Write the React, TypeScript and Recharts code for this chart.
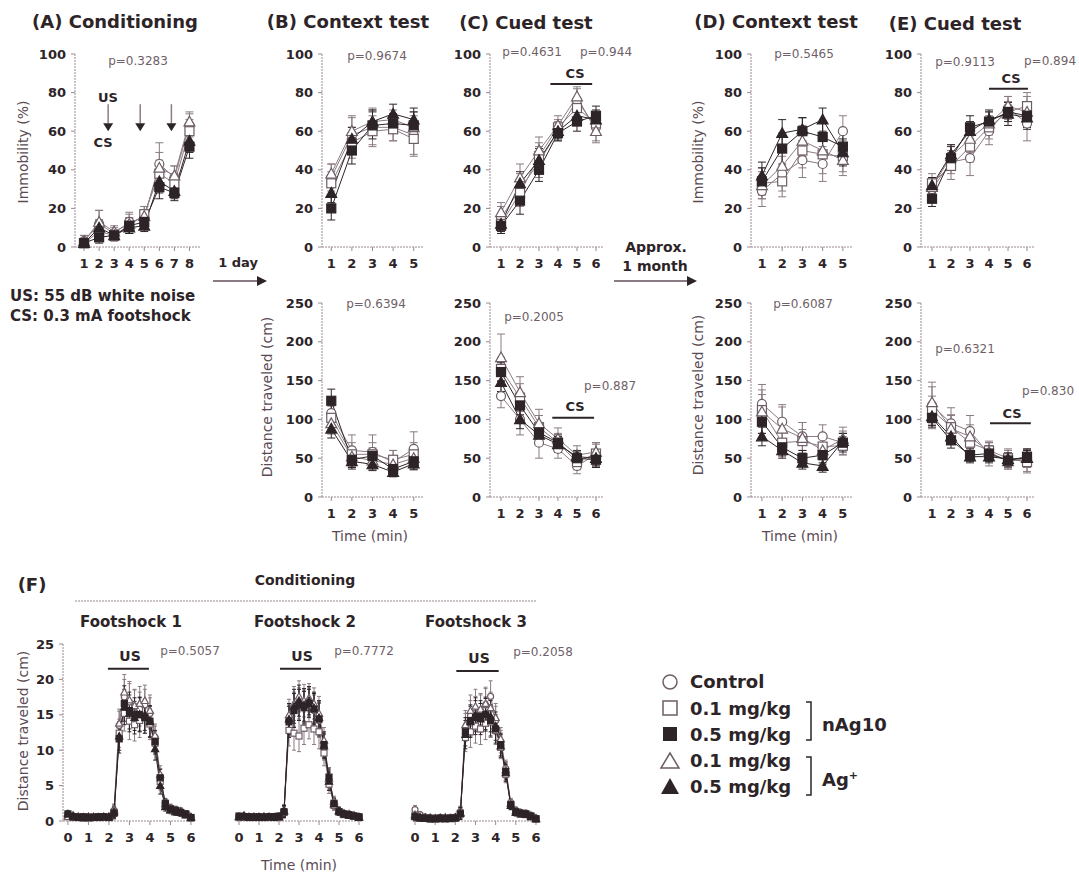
import React from "react";
import {
  LineChart,
  Line,
  XAxis,
  YAxis,
  ErrorBar,
  ReferenceLine,
  ReferenceDot,
} from "recharts";

const FONT = '"DejaVu Sans", Verdana, sans-serif';
const INK = "#2d2428";
const GREY = "#8b7b84";
const OPEN = "#6d5d66";
const AXIS = "#9a8a92";
const PTXT = "#6f5f69";
const LABEL = "#5b4b55";

// x categories (minutes / trials)
const cond8 = [1, 2, 3, 4, 5, 6, 7, 8];
const min5 = [1, 2, 3, 4, 5];
const min6 = [1, 2, 3, 4, 5, 6];
const fTimes = [0, 0.25, 0.5, 0.75, 1, 1.25, 1.5, 1.75, 2, 2.25, 2.5, 2.75, 3, 3.25, 3.5, 3.75, 4, 4.25, 4.5, 4.75, 5, 5.25, 5.5, 5.75, 6];
const fxTicks = [0, 1, 2, 3, 4, 5, 6];

const immTicks = [0, 20, 40, 60, 80, 100];
const distTicks = [0, 50, 100, 150, 200, 250];
const fTicks = [0, 5, 10, 15, 20, 25];

// (A) conditioning, immobility (%)
const aCtl = [3, 12, 7, 13, 15, 43, 36, 63];
const aN01 = [2, 8, 6, 11, 17, 38, 33, 60];
const aN05 = [2, 5, 6, 11, 13, 31, 28, 52];
const aA01 = [3, 13, 8, 12, 16, 41, 37, 65];
const aA05 = [2, 10, 6, 10, 11, 34, 29, 55];
const aCtlE = [3, 7, 3, 5, 4, 11, 6, 6];
const aN01E = [2, 4, 3, 4, 4, 7, 5, 6];
const aN05E = [2, 3, 2, 4, 3, 6, 4, 6];
const aA01E = [3, 6, 3, 5, 5, 8, 5, 5];
const aA05E = [2, 4, 2, 3, 3, 6, 4, 6];

// (B) context test, immobility
const bCtl = [36, 58, 62, 62, 58];
const bN01 = [33, 54, 60, 61, 56];
const bN05 = [20, 50, 63, 64, 63];
const bA01 = [38, 60, 65, 66, 62];
const bA05 = [28, 56, 65, 69, 66];
const bCtlE = [7, 10, 9, 7, 10];
const bN01E = [6, 8, 8, 6, 9];
const bN05E = [6, 7, 7, 5, 7];
const bA01E = [5, 7, 7, 5, 8];
const bA05E = [5, 6, 6, 5, 6];

// (C) cued test, immobility
const cCtl = [15, 30, 44, 60, 76, 62];
const cN01 = [12, 28, 47, 62, 72, 64];
const cN05 = [11, 24, 40, 59, 65, 68];
const cA01 = [18, 36, 50, 63, 78, 60];
const cA05 = [12, 33, 45, 60, 68, 66];
const cCtlE = [6, 8, 8, 5, 6, 7];
const cN01E = [5, 7, 7, 4, 5, 5];
const cN05E = [4, 7, 6, 4, 5, 5];
const cA01E = [5, 7, 7, 5, 5, 6];
const cA05E = [4, 6, 6, 4, 4, 5];

// (D) context test 1 month, immobility
const dCtl = [29, 38, 45, 43, 60];
const dN01 = [33, 34, 50, 48, 47];
const dN05 = [34, 51, 60, 57, 52];
const dA01 = [32, 42, 55, 50, 45];
const dA05 = [37, 59, 61, 66, 49];
const dCtlE = [8, 9, 9, 9, 8];
const dN01E = [8, 8, 9, 10, 8];
const dN05E = [7, 8, 7, 7, 8];
const dA01E = [7, 9, 8, 8, 8];
const dA05E = [7, 7, 6, 6, 7];

// (E) cued test 1 month, immobility
const eCtl = [30, 44, 46, 60, 72, 64];
const eN01 = [33, 42, 52, 62, 70, 73];
const eN05 = [25, 46, 62, 65, 70, 68];
const eA01 = [31, 47, 56, 64, 73, 70];
const eA05 = [32, 48, 60, 66, 69, 67];
const eCtlE = [6, 6, 9, 7, 6, 9];
const eN01E = [5, 7, 8, 6, 5, 7];
const eN05E = [4, 6, 6, 5, 5, 6];
const eA01E = [5, 6, 7, 6, 5, 8];
const eA05E = [4, 5, 5, 5, 6, 6];

// distance traveled (cm), context/cued tests
const bdCtl = [108, 60, 58, 45, 62];
const bdN01 = [102, 55, 55, 48, 55];
const bdN05 = [124, 48, 53, 36, 46];
const bdA01 = [95, 52, 47, 42, 50];
const bdA05 = [88, 46, 42, 32, 43];
const bdCtlE = [18, 20, 22, 15, 22];
const bdN01E = [15, 15, 15, 12, 15];
const bdN05E = [15, 10, 10, 8, 10];
const bdA01E = [14, 12, 12, 10, 12];
const bdA05E = [12, 10, 8, 6, 8];

const cdCtl = [130, 100, 70, 62, 40, 55];
const cdN01 = [165, 128, 90, 70, 45, 56];
const cdN05 = [161, 118, 83, 70, 50, 48];
const cdA01 = [180, 135, 95, 75, 54, 58];
const cdA05 = [148, 100, 80, 68, 52, 50];
const cdCtlE = [15, 20, 20, 12, 10, 15];
const cdN01E = [15, 18, 15, 12, 10, 12];
const cdN05E = [12, 12, 12, 10, 8, 10];
const cdA01E = [30, 20, 18, 14, 12, 12];
const cdA05E = [12, 12, 12, 10, 8, 10];

const ddCtl = [120, 97, 78, 78, 70];
const ddN01 = [112, 70, 72, 65, 66];
const ddN05 = [97, 64, 50, 54, 70];
const ddA01 = [110, 88, 76, 60, 75];
const ddA05 = [78, 60, 44, 40, 72];
const ddCtlE = [25, 22, 18, 15, 15];
const ddN01E = [20, 18, 15, 15, 12];
const ddN05E = [15, 10, 10, 10, 12];
const ddA01E = [28, 28, 20, 18, 15];
const ddA05E = [12, 10, 8, 8, 10];

const edCtl = [118, 95, 85, 55, 48, 46];
const edN01 = [112, 90, 70, 60, 50, 45];
const edN05 = [102, 73, 54, 56, 47, 52];
const edA01 = [122, 88, 78, 58, 46, 50];
const edA05 = [104, 78, 52, 52, 49, 50];
const edCtlE = [30, 20, 20, 15, 12, 15];
const edN01E = [18, 15, 18, 12, 12, 12];
const edN05E = [12, 10, 8, 10, 8, 10];
const edA01E = [20, 18, 15, 12, 10, 12];
const edA05E = [12, 10, 8, 8, 8, 10];

// (F) distance per bin during conditioning footshocks
const f1Ctl = [0.9, 0.7, 0.6, 0.5, 0.6, 0.5, 0.6, 0.5, 0.6, 1.5, 13.5, 17.5, 16.8, 16.2, 15.8, 16.4, 15.2, 11.8, 6.2, 2.6, 1.9, 1.6, 1.3, 1.0, 0.5];
const f1N01 = [0.7, 0.5, 0.6, 0.4, 0.5, 0.6, 0.5, 0.6, 0.5, 1.2, 12.4, 15.2, 14.1, 13.6, 14.2, 14.6, 13.7, 11.0, 5.6, 2.2, 1.7, 1.4, 1.2, 0.9, 0.4];
const f1N05 = [1.0, 0.6, 0.5, 0.6, 0.5, 0.5, 0.6, 0.6, 0.5, 1.1, 11.6, 16.6, 15.6, 15.1, 15.0, 14.6, 14.1, 11.2, 6.1, 2.5, 1.7, 1.5, 1.2, 1.0, 0.5];
const f1A01 = [0.6, 0.8, 0.5, 0.5, 0.4, 0.6, 0.5, 0.5, 0.6, 1.6, 13.8, 18.2, 17.1, 16.3, 16.6, 17.0, 15.6, 12.1, 6.6, 2.4, 1.5, 1.3, 1.4, 0.8, 0.6];
const f1A05 = [1.0, 0.7, 0.6, 0.5, 0.6, 0.5, 0.5, 0.6, 0.6, 1.3, 12.0, 16.1, 15.2, 14.6, 15.1, 15.0, 14.0, 10.2, 5.0, 2.0, 1.6, 1.3, 1.2, 0.9, 0.5];
const f1Err = [0.4, 0.3, 0.3, 0.3, 0.3, 0.3, 0.3, 0.3, 0.3, 0.8, 2.0, 2.5, 2.6, 2.3, 2.4, 2.2, 2.2, 1.6, 1.2, 0.6, 0.5, 0.5, 0.5, 0.4, 0.3];

const f2Ctl = [0.6, 0.7, 0.6, 0.5, 0.6, 0.6, 0.5, 0.6, 0.6, 1.4, 14.2, 15.8, 16.6, 16.2, 16.8, 15.6, 14.2, 10.4, 5.8, 2.6, 1.4, 1.0, 0.9, 0.8, 0.6];
const f2N01 = [0.5, 0.6, 0.5, 0.6, 0.5, 0.5, 0.6, 0.5, 0.5, 1.2, 12.8, 12.4, 12.0, 13.1, 13.6, 13.0, 12.6, 9.6, 5.2, 2.2, 1.3, 0.9, 0.8, 0.7, 0.5];
const f2N05 = [0.7, 0.6, 0.6, 0.5, 0.6, 0.5, 0.6, 0.6, 0.7, 1.3, 14.0, 15.6, 16.4, 16.0, 16.6, 15.8, 14.4, 10.8, 6.2, 2.5, 1.3, 1.0, 0.9, 0.7, 0.6];
const f2A01 = [0.6, 0.8, 0.6, 0.5, 0.6, 0.6, 0.5, 0.5, 0.6, 1.5, 15.0, 16.6, 17.6, 17.0, 17.4, 16.6, 15.2, 11.4, 6.0, 2.8, 1.5, 1.1, 1.0, 0.8, 0.6];
const f2A05 = [0.6, 0.7, 0.5, 0.6, 0.5, 0.6, 0.6, 0.5, 0.6, 1.4, 14.4, 16.2, 17.0, 16.4, 17.0, 16.0, 14.6, 10.6, 5.6, 2.4, 1.4, 1.0, 0.8, 0.7, 0.5];
const f2Err = [0.3, 0.3, 0.3, 0.3, 0.3, 0.3, 0.3, 0.3, 0.3, 0.8, 2.2, 2.4, 2.2, 2.3, 2.0, 2.2, 2.4, 1.8, 1.3, 0.7, 0.5, 0.4, 0.4, 0.3, 0.3];

const f3Ctl = [1.6, 0.9, 0.6, 0.5, 0.4, 0.5, 0.4, 0.5, 0.5, 1.3, 13.2, 14.8, 15.2, 15.6, 16.4, 17.6, 14.2, 11.2, 7.4, 2.6, 1.5, 1.2, 1.1, 0.8, 0.4];
const f3N01 = [0.8, 0.5, 0.4, 0.3, 0.4, 0.3, 0.4, 0.4, 0.5, 1.1, 11.8, 12.6, 13.4, 13.0, 13.8, 14.0, 12.8, 10.4, 6.6, 2.2, 1.3, 1.0, 0.9, 0.6, 0.3];
const f3N05 = [0.6, 0.4, 0.4, 0.3, 0.3, 0.4, 0.3, 0.4, 0.4, 1.0, 12.6, 14.2, 14.6, 14.8, 15.0, 14.2, 13.0, 10.8, 7.0, 2.3, 1.3, 1.1, 1.0, 0.7, 0.3];
const f3A01 = [0.9, 0.6, 0.5, 0.4, 0.4, 0.4, 0.5, 0.4, 0.5, 1.2, 13.6, 15.6, 16.2, 15.8, 16.6, 16.0, 14.6, 11.6, 7.2, 2.5, 1.4, 1.2, 1.0, 0.8, 0.4];
const f3A05 = [0.7, 0.5, 0.4, 0.4, 0.3, 0.4, 0.4, 0.3, 0.5, 1.1, 12.2, 14.0, 15.0, 14.4, 15.2, 14.8, 13.4, 10.6, 6.8, 2.2, 1.2, 1.0, 0.9, 0.6, 0.3];
const f3Err = [0.6, 0.4, 0.3, 0.3, 0.3, 0.3, 0.3, 0.3, 0.3, 0.8, 2.0, 2.2, 2.4, 2.2, 2.3, 2.2, 2.0, 1.6, 1.2, 0.6, 0.5, 0.4, 0.4, 0.3, 0.3];

// group order in every vals/errs list: control, nAg10 0.1, nAg10 0.5, Ag+ 0.1, Ag+ 0.5
const KEYS = ["ctl", "n01", "n05", "a01", "a05"];
const STYLE: Record<string, { shape: string; filled: boolean }> = {
  ctl: { shape: "circle", filled: false },
  n01: { shape: "square", filled: false },
  n05: { shape: "square", filled: true },
  a01: { shape: "triangle", filled: false },
  a05: { shape: "triangle", filled: true },
};
const DRAW_ORDER = ["ctl", "n01", "a01", "n05", "a05"];

function rows(xs: number[], vals: number[][], errs: number[][]) {
  return xs.map((x, i) => {
    const r: Record<string, number> = { x };
    KEYS.forEach((k, j) => {
      r[k] = vals[j][i];
      r[k + "E"] = errs[j][i];
    });
    return r;
  });
}

function Marker({ cx, cy, shape, filled, r }: any) {
  if (cx == null || cy == null) return null;
  const fill = filled ? INK : "#fff";
  const stroke = filled ? INK : OPEN;
  if (shape === "circle")
    return <circle cx={cx} cy={cy} r={r} fill={fill} stroke={stroke} strokeWidth={1.2} />;
  if (shape === "square")
    return (
      <rect x={cx - r} y={cy - r} width={r * 2} height={r * 2} fill={fill} stroke={stroke} strokeWidth={1.2} />
    );
  const h = r * 1.2;
  return (
    <polygon
      points={`${cx},${cy - h} ${cx - h},${cy + h * 0.8} ${cx + h},${cy + h * 0.8}`}
      fill={fill}
      stroke={stroke}
      strokeWidth={1.2}
    />
  );
}

function Panel({ x0, x1, y0, y1, xs, vals, errs, xDomain, xTicks, yMax, yTicks, hideY = false, r = 4.5, cap = 4, children }: any) {
  const YW = hideY ? 0 : 44;
  const ML = hideY ? 12 : 0;
  const MT = 12;
  const MR = 12;
  const XH = 32;
  const data = rows(xs, vals, errs);
  const tick = { fill: INK, fontSize: 13, fontWeight: 700, fontFamily: FONT };
  const axisLine = { stroke: AXIS, strokeDasharray: "2 1" };
  return (
    <div style={{ position: "absolute", left: x0 - YW - ML, top: y0 - MT }}>
      <LineChart
        width={x1 - x0 + YW + ML + MR}
        height={y1 - y0 + MT + XH}
        data={data}
        margin={{ top: MT, right: MR, bottom: 0, left: ML }}
      >
        <XAxis
          type="number"
          dataKey="x"
          domain={xDomain}
          ticks={xTicks}
          interval={0}
          height={XH}
          tickSize={4}
          tickMargin={8}
          axisLine={axisLine}
          tickLine={{ stroke: AXIS }}
          tick={tick}
        />
        <YAxis
          type="number"
          domain={[0, yMax]}
          ticks={yTicks}
          interval={0}
          width={YW}
          hide={hideY}
          tickSize={4}
          tickMargin={5}
          axisLine={axisLine}
          tickLine={{ stroke: AXIS }}
          tick={tick}
        />
        {DRAW_ORDER.map((k) => {
          const s = STYLE[k];
          const col = s.filled ? INK : GREY;
          return (
            <Line
              key={k}
              dataKey={k}
              stroke={col}
              strokeWidth={1}
              activeDot={false}
              legendType="none"
              isAnimationActive={false}
              dot={(p: any) => (
                <Marker key={`${k}-${p.index}`} cx={p.cx} cy={p.cy} shape={s.shape} filled={s.filled} r={r} />
              )}
            >
              <ErrorBar dataKey={k + "E"} width={cap} stroke={col} strokeWidth={1} direction="y" />
            </Line>
          );
        })}
        {children}
      </LineChart>
    </div>
  );
}

function Txt({ x, y, children, size = 12, bold = false, color = INK, align = "center", rotate = false }: any) {
  const tx = align === "center" ? "-50%" : "0";
  return (
    <div
      style={{
        position: "absolute",
        left: x,
        top: y,
        transform: `translate(${tx}, -50%)${rotate ? " rotate(-90deg)" : ""}`,
        fontFamily: FONT,
        fontSize: size,
        fontWeight: bold ? 700 : 400,
        color,
        whiteSpace: "nowrap",
        lineHeight: 1.1,
      }}
    >
      {children}
    </div>
  );
}

const bar = (xa: number, xb: number, y: number) => (
  <ReferenceLine
    segment={[{ x: xa, y }, { x: xb, y }]}
    stroke={INK}
    strokeWidth={2}
    ifOverflow="visible"
  />
);

const usArrow = (x: number) => [
  <ReferenceLine key={`s${x}`} segment={[{ x, y: 74 }, { x, y: 64 }]} stroke={GREY} strokeWidth={1.5} ifOverflow="visible" />,
  <ReferenceDot
    key={`h${x}`}
    x={x}
    y={62}
    r={4}
    ifOverflow="visible"
    shape={(p: any) => (
      <polygon points={`${p.cx - 5},${p.cy - 4} ${p.cx + 5},${p.cy - 4} ${p.cx},${p.cy + 4}`} fill={INK} />
    )}
  />,
];

export default function App() {
  const topY = { y0: 54, y1: 247, yMax: 100, yTicks: immTicks };
  const botY = { y0: 303, y1: 497, yMax: 250, yTicks: distTicks };
  const fY = { y0: 644, y1: 821, yMax: 25, yTicks: fTicks, r: 3, cap: 2 };
  return (
    <div
      style={{
        position: "absolute",
        left: 0,
        top: 0,
        width: 1079,
        height: 878,
        background: "#fff",
        overflow: "hidden",
      }}
    >
      {/* titles */}
      <Txt x={115} y={22} size={18} bold>(A) Conditioning</Txt>
      <Txt x={348} y={22} size={18} bold>(B) Context test</Txt>
      <Txt x={526} y={23} size={18} bold>(C) Cued test</Txt>
      <Txt x={776} y={22} size={18} bold>(D) Context test</Txt>
      <Txt x={955} y={24} size={18} bold>(E) Cued test</Txt>

      {/* axis titles */}
      <Txt x={24} y={152} size={14} color={LABEL} rotate>Immobility (%)</Txt>
      <Txt x={699} y={152} size={14} color={LABEL} rotate>Immobility (%)</Txt>
      <Txt x={268} y={397} size={14} color={LABEL} rotate>Distance traveled (cm)</Txt>
      <Txt x={699} y={395} size={14} color={LABEL} rotate>Distance traveled (cm)</Txt>
      <Txt x={370} y={537} size={14} color={LABEL}>Time (min)</Txt>
      <Txt x={800} y={537} size={14} color={LABEL}>Time (min)</Txt>

      {/* top row */}
      <Panel x0={75} x1={200} {...topY} xs={cond8} xTicks={cond8} xDomain={[0.4, 8.7]}
        vals={[aCtl, aN01, aN05, aA01, aA05]} errs={[aCtlE, aN01E, aN05E, aA01E, aA05E]}>
        {usArrow(2.6)}
        {usArrow(4.73)}
        {usArrow(6.8)}
      </Panel>
      <Panel x0={322} x1={423} {...topY} xs={min5} xTicks={min5} xDomain={[0.55, 5.45]}
        vals={[bCtl, bN01, bN05, bA01, bA05]} errs={[bCtlE, bN01E, bN05E, bA01E, bA05E]} />
      <Panel x0={490} x1={603} {...topY} xs={min6} xTicks={min6} xDomain={[0.42, 6.37]}
        vals={[cCtl, cN01, cN05, cA01, cA05]} errs={[cCtlE, cN01E, cN05E, cA01E, cA05E]}>
        {bar(3.6, 5.8, 84.5)}
      </Panel>
      <Panel x0={751} x1={853} {...topY} xs={min5} xTicks={min5} xDomain={[0.46, 5.5]}
        vals={[dCtl, dN01, dN05, dA01, dA05]} errs={[dCtlE, dN01E, dN05E, dA01E, dA05E]} />
      <Panel x0={921} x1={1035} {...topY} xs={min6} xTicks={min6} xDomain={[0.42, 6.42]}
        vals={[eCtl, eN01, eN05, eA01, eA05]} errs={[eCtlE, eN01E, eN05E, eA01E, eA05E]}>
        {bar(4.0, 6.05, 82)}
      </Panel>

      {/* bottom row */}
      <Panel x0={322} x1={423} {...botY} xs={min5} xTicks={min5} xDomain={[0.55, 5.45]}
        vals={[bdCtl, bdN01, bdN05, bdA01, bdA05]} errs={[bdCtlE, bdN01E, bdN05E, bdA01E, bdA05E]} />
      <Panel x0={490} x1={603} {...botY} xs={min6} xTicks={min6} xDomain={[0.42, 6.37]}
        vals={[cdCtl, cdN01, cdN05, cdA01, cdA05]} errs={[cdCtlE, cdN01E, cdN05E, cdA01E, cdA05E]}>
        {bar(3.7, 5.9, 102)}
      </Panel>
      <Panel x0={751} x1={853} {...botY} xs={min5} xTicks={min5} xDomain={[0.46, 5.5]}
        vals={[ddCtl, ddN01, ddN05, ddA01, ddA05]} errs={[ddCtlE, ddN01E, ddN05E, ddA01E, ddA05E]} />
      <Panel x0={921} x1={1035} {...botY} xs={min6} xTicks={min6} xDomain={[0.42, 6.42]}
        vals={[edCtl, edN01, edN05, edA01, edA05]} errs={[edCtlE, edN01E, edN05E, edA01E, edA05E]}>
        {bar(4.05, 6.2, 95)}
      </Panel>

      {/* (F) footshock traces */}
      <Panel x0={63} x1={193} {...fY} xs={fTimes} xTicks={fxTicks} xDomain={[-0.24, 6.1]}
        vals={[f1Ctl, f1N01, f1N05, f1A01, f1A05]} errs={[f1Err, f1Err, f1Err, f1Err, f1Err]}>
        {bar(1.95, 3.95, 21.5)}
      </Panel>
      <Panel x0={237} x1={363} {...fY} hideY xs={fTimes} xTicks={fxTicks} xDomain={[-0.1, 6.2]}
        vals={[f2Ctl, f2N01, f2N05, f2A01, f2A05]} errs={[f2Err, f2Err, f2Err, f2Err, f2Err]}>
        {bar(2.05, 4.1, 21.5)}
      </Panel>
      <Panel x0={413} x1={540} {...fY} hideY xs={fTimes} xTicks={fxTicks} xDomain={[-0.1, 6.2]}
        vals={[f3Ctl, f3N01, f3N05, f3A01, f3A05]} errs={[f3Err, f3Err, f3Err, f3Err, f3Err]}>
        {bar(2.05, 4.15, 21.2)}
      </Panel>

      {/* p values and cue labels */}
      <Txt x={138} y={62} size={12} color={PTXT}>p=0.3283</Txt>
      <Txt x={108} y={98} size={13} bold>US</Txt>
      <Txt x={103} y={143} size={13} bold>CS</Txt>
      <Txt x={377} y={57} size={12} color={PTXT}>p=0.9674</Txt>
      <Txt x={532} y={53} size={12} color={PTXT}>p=0.4631</Txt>
      <Txt x={606} y={53} size={12} color={PTXT}>p=0.944</Txt>
      <Txt x={575} y={74} size={13} bold>CS</Txt>
      <Txt x={804} y={55} size={12} color={PTXT}>p=0.5465</Txt>
      <Txt x={965} y={63} size={12} color={PTXT}>p=0.9113</Txt>
      <Txt x={1050} y={62} size={12} color={PTXT}>p=0.894</Txt>
      <Txt x={1011} y={79} size={13} bold>CS</Txt>

      <Txt x={376} y={305} size={12} color={PTXT}>p=0.6394</Txt>
      <Txt x={534} y={318} size={12} color={PTXT}>p=0.2005</Txt>
      <Txt x={610} y={387} size={12} color={PTXT}>p=0.887</Txt>
      <Txt x={575} y={407} size={13} bold>CS</Txt>
      <Txt x={803} y={305} size={12} color={PTXT}>p=0.6087</Txt>
      <Txt x={965} y={350} size={12} color={PTXT}>p=0.6321</Txt>
      <Txt x={1048} y={392} size={12} color={PTXT}>p=0.830</Txt>
      <Txt x={1012} y={414} size={13} bold>CS</Txt>

      {/* side notes and interval arrows */}
      <Txt x={10} y={296} size={15} bold align="left">US: 55 dB white noise</Txt>
      <Txt x={10} y={316} size={15} bold align="left">CS: 0.3 mA footshock</Txt>
      <Txt x={238} y={263} size={13} bold>1 day</Txt>
      <Txt x={656} y={248} size={14} bold>Approx.</Txt>
      <Txt x={655} y={267} size={14} bold>1 month</Txt>

      {/* (F) labels */}
      <Txt x={32} y={585} size={18} bold>(F)</Txt>
      <Txt x={305} y={581} size={14} bold>Conditioning</Txt>
      <Txt x={131} y={622} size={15} bold>Footshock 1</Txt>
      <Txt x={305} y={622} size={15} bold>Footshock 2</Txt>
      <Txt x={476} y={622} size={15} bold>Footshock 3</Txt>
      <Txt x={24} y={731} size={14} color={LABEL} rotate>Distance traveled (cm)</Txt>
      <Txt x={299} y={866} size={14} color={LABEL}>Time (min)</Txt>
      <Txt x={130} y={657} size={14} bold>US</Txt>
      <Txt x={302} y={657} size={14} bold>US</Txt>
      <Txt x={479} y={659} size={14} bold>US</Txt>
      <Txt x={190} y={652} size={12} color={PTXT}>p=0.5057</Txt>
      <Txt x={364} y={652} size={12} color={PTXT}>p=0.7772</Txt>
      <Txt x={543} y={653} size={12} color={PTXT}>p=0.2058</Txt>

      {/* legend */}
      <Txt x={690} y={682} size={18} bold align="left">Control</Txt>
      <Txt x={690} y={709} size={18} bold align="left">0.1 mg/kg</Txt>
      <Txt x={690} y={735} size={18} bold align="left">0.5 mg/kg</Txt>
      <Txt x={690} y={761} size={18} bold align="left">0.1 mg/kg</Txt>
      <Txt x={690} y={787} size={18} bold align="left">0.5 mg/kg</Txt>
      <Txt x={822} y={725} size={18} bold align="left">nAg10</Txt>
      <Txt x={822} y={780} size={18} bold align="left">
        Ag<sup style={{ fontSize: 11 }}>+</sup>
      </Txt>

      <svg width={1079} height={878} style={{ position: "absolute", left: 0, top: 0, pointerEvents: "none" }}>
        <line x1={213} y1={281} x2={258} y2={281} stroke={GREY} strokeWidth={2} />
        <polygon points="257,276 267,281 257,286" fill={INK} />
        <line x1={614} y1={281} x2={688} y2={281} stroke={GREY} strokeWidth={2} />
        <polygon points="687,276 697,281 687,286" fill={INK} />
        <line x1={75} y1={601} x2={536} y2={601} stroke={AXIS} strokeWidth={1} strokeDasharray="2 1" />
        <circle cx={670} cy={682} r={7} fill="#fff" stroke={OPEN} strokeWidth={1.5} />
        <rect x={663} y={701} width={14} height={14} fill="#fff" stroke={OPEN} strokeWidth={1.5} />
        <rect x={663} y={727} width={14} height={14} fill={INK} />
        <polygon points="670,753 661,768 679,768" fill="#fff" stroke={OPEN} strokeWidth={1.5} />
        <polygon points="670,778 661,794 679,794" fill={INK} />
        <path d="M806,702 h5 v38 h-5" fill="none" stroke={INK} strokeWidth={1.5} />
        <path d="M806,757 h5 v38 h-5" fill="none" stroke={INK} strokeWidth={1.5} />
      </svg>
    </div>
  );
}
